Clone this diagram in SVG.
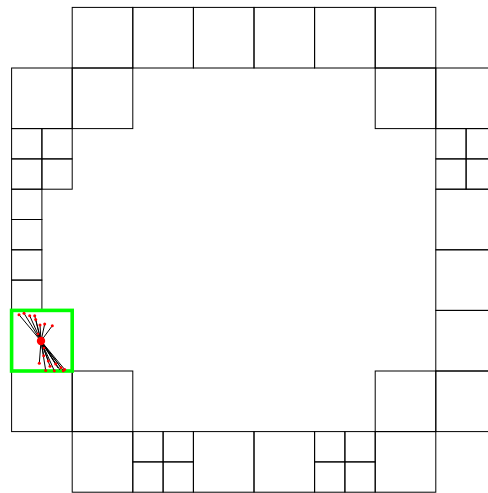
<svg xmlns="http://www.w3.org/2000/svg" width="488" height="493" viewBox="0 0 488 493">
<style>
.c{fill:none;stroke:#000;stroke-width:1}
.sel{fill:none;stroke:#00ff00;stroke-width:3.6}
.e{stroke:#000;stroke-width:1}
.d{fill:#ff0000}
</style>
<rect width="488" height="493" fill="#fff"/>
<g id="cells">
<!-- row 0 -->
<rect class="c" x="72.2" y="7.4" width="60.6" height="60.6"/>
<rect class="c" x="132.8" y="7.4" width="60.6" height="60.6"/>
<rect class="c" x="193.4" y="7.4" width="60.6" height="60.6"/>
<rect class="c" x="254.0" y="7.4" width="60.6" height="60.6"/>
<rect class="c" x="314.6" y="7.4" width="60.6" height="60.6"/>
<rect class="c" x="375.2" y="7.4" width="60.6" height="60.6"/>
<!-- row 1 -->
<rect class="c" x="11.6" y="68.0" width="60.6" height="60.6"/>
<rect class="c" x="72.2" y="68.0" width="60.6" height="60.6"/>
<rect class="c" x="375.2" y="68.0" width="60.6" height="60.6"/>
<rect class="c" x="435.8" y="68.0" width="60.6" height="60.6"/>
<!-- row 2 small -->
<rect class="c" x="11.6" y="128.6" width="30.3" height="30.3"/>
<rect class="c" x="41.9" y="128.6" width="30.3" height="30.3"/>
<rect class="c" x="11.6" y="158.9" width="30.3" height="30.3"/>
<rect class="c" x="41.9" y="158.9" width="30.3" height="30.3"/>
<rect class="c" x="435.8" y="128.6" width="30.3" height="30.3"/>
<rect class="c" x="466.1" y="128.6" width="30.3" height="30.3"/>
<rect class="c" x="435.8" y="158.9" width="30.3" height="30.3"/>
<rect class="c" x="466.1" y="158.9" width="30.3" height="30.3"/>
<!-- left small column -->
<rect class="c" x="11.6" y="189.2" width="30.3" height="30.3"/>
<rect class="c" x="11.6" y="219.5" width="30.3" height="30.3"/>
<rect class="c" x="11.6" y="249.8" width="30.3" height="30.3"/>
<rect class="c" x="11.6" y="280.1" width="30.3" height="30.3"/>
<!-- right column -->
<rect class="c" x="435.8" y="189.2" width="60.6" height="60.6"/>
<rect class="c" x="435.8" y="249.8" width="60.6" height="60.6"/>
<rect class="c" x="435.8" y="310.4" width="60.6" height="60.6"/>
<!-- row 5 left -->
<rect class="c" x="11.6" y="310.4" width="60.6" height="60.6"/>
<!-- row 6 -->
<rect class="c" x="11.6" y="371.0" width="60.6" height="60.6"/>
<rect class="c" x="72.2" y="371.0" width="60.6" height="60.6"/>
<rect class="c" x="375.2" y="371.0" width="60.6" height="60.6"/>
<rect class="c" x="435.8" y="371.0" width="60.6" height="60.6"/>
<!-- row 7 -->
<rect class="c" x="72.2" y="431.6" width="60.6" height="60.6"/>
<rect class="c" x="132.8" y="431.6" width="30.3" height="30.3"/>
<rect class="c" x="163.1" y="431.6" width="30.3" height="30.3"/>
<rect class="c" x="132.8" y="461.9" width="30.3" height="30.3"/>
<rect class="c" x="163.1" y="461.9" width="30.3" height="30.3"/>
<rect class="c" x="193.4" y="431.6" width="60.6" height="60.6"/>
<rect class="c" x="254.0" y="431.6" width="60.6" height="60.6"/>
<rect class="c" x="314.6" y="431.6" width="30.3" height="30.3"/>
<rect class="c" x="344.9" y="431.6" width="30.3" height="30.3"/>
<rect class="c" x="314.6" y="461.9" width="30.3" height="30.3"/>
<rect class="c" x="344.9" y="461.9" width="30.3" height="30.3"/>
<rect class="c" x="375.2" y="431.6" width="60.6" height="60.6"/>
</g>
<g id="selection">
<rect class="sel" x="11.6" y="310.4" width="60.6" height="60.6"/>
</g>
<g id="connectors">
<line class="e" x1="41" y1="341" x2="19" y2="314.7"/>
<line class="e" x1="41" y1="341" x2="24" y2="313.3"/>
<line class="e" x1="41" y1="341" x2="29.7" y2="315.7"/>
<line class="e" x1="41" y1="341" x2="34.7" y2="315.7"/>
<line class="e" x1="41" y1="341" x2="35.7" y2="319.5"/>
<line class="e" x1="41" y1="341" x2="40" y2="325"/>
<line class="e" x1="41" y1="341" x2="44.7" y2="324"/>
<line class="e" x1="41" y1="341" x2="52.3" y2="325.7"/>
<line class="e" x1="41" y1="341" x2="39.3" y2="363.3"/>
<line class="e" x1="41" y1="341" x2="43.7" y2="355.7"/>
<line class="e" x1="41" y1="341" x2="45.7" y2="370.5"/>
<line class="e" x1="41" y1="341" x2="48.3" y2="361"/>
<line class="e" x1="41" y1="341" x2="50" y2="366.3"/>
<line class="e" x1="41" y1="341" x2="54.3" y2="370.7"/>
<line class="e" x1="41" y1="341" x2="55.7" y2="364"/>
<line class="e" x1="41" y1="341" x2="61" y2="367.7"/>
<line class="e" x1="41" y1="341" x2="63.3" y2="370.7"/>
<line class="e" x1="41" y1="341" x2="64.7" y2="369.5"/>
<line class="e" x1="41" y1="341" x2="58" y2="368"/>
<line class="e" x1="41" y1="341" x2="60" y2="370"/>
</g>
<g id="points">
<circle class="d" cx="41" cy="341" r="4.2"/>
<circle class="d" cx="19" cy="314.7" r="1.5"/>
<circle class="d" cx="24" cy="313.3" r="1.5"/>
<circle class="d" cx="29.7" cy="315.7" r="1.5"/>
<circle class="d" cx="34.7" cy="315.7" r="1.5"/>
<circle class="d" cx="35.7" cy="319.5" r="1.5"/>
<circle class="d" cx="40" cy="325" r="1.5"/>
<circle class="d" cx="44.7" cy="324" r="1.5"/>
<circle class="d" cx="52.3" cy="325.7" r="1.5"/>
<circle class="d" cx="39.3" cy="363.3" r="1.5"/>
<circle class="d" cx="43.7" cy="355.7" r="1.5"/>
<circle class="d" cx="45.7" cy="370.5" r="1.5"/>
<circle class="d" cx="48.3" cy="361" r="1.5"/>
<circle class="d" cx="50" cy="366.3" r="1.5"/>
<circle class="d" cx="54.3" cy="370.7" r="1.5"/>
<circle class="d" cx="55.7" cy="364" r="1.5"/>
<circle class="d" cx="61" cy="367.7" r="1.5"/>
<circle class="d" cx="63.3" cy="370.7" r="1.5"/>
<circle class="d" cx="64.7" cy="369.5" r="1.5"/>
<circle class="d" cx="44" cy="348" r="1.3"/>
<circle class="d" cx="38" cy="334" r="1.3"/>
</g>
</svg>
